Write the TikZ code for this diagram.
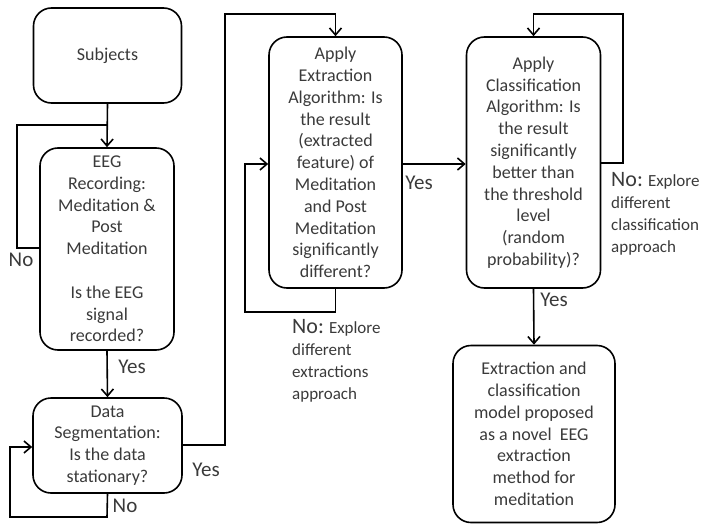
\documentclass[tikz,border=0pt]{standalone}
\usepackage{fontspec}
\setmainfont{Carlito}
\usetikzlibrary{arrows.meta}
\definecolor{txt}{HTML}{3A3A3A}
\tikzset{
  box/.style={draw=black, line width=1.6pt, rounded corners=18pt, align=center, inner sep=0pt,
    text=txt, font=\fontsize{18}{21.8}\selectfont},
  conn/.style={draw=black, line width=1.6pt},
  arr/.style={conn, -{Straight Barb[length=7pt,width=12pt,line width=1.6pt]}},
  lbl/.style={text=txt, inner sep=0pt, font=\fontsize{21}{22}\selectfont},
  note/.style={text=txt, inner sep=0pt, align=left, anchor=north west, font=\fontsize{17}{22}\selectfont},
}
\begin{document}
\begin{tikzpicture}[x=1pt,y=-1pt]
\useasboundingbox (0,0) rectangle (706,524);

\node[box, minimum width=148pt, minimum height=95pt] (subj) at (107.5,55.5) {Subjects};
\node[box, minimum width=134pt, minimum height=202pt] (eeg) at (107,249) {EEG\\Recording:\\Meditation \&\\Post\\Meditation\\[21.8pt]Is the EEG\\signal\\recorded?};
\node[box, minimum width=149pt, minimum height=95pt] (data) at (107.5,445.5) {Data\\Segmentation:\\Is the data\\stationary?};
\node[box, minimum width=133pt, minimum height=251pt] (extr) at (335.5,162.5) {Apply\\Extraction\\Algorithm: Is\\the result\\(extracted\\feature) of\\Meditation\\and Post\\Meditation\\significantly\\different?};
\node[box, minimum width=134pt, minimum height=251pt] (clas) at (533.5,162.5) {Apply\\Classification\\Algorithm: Is\\the result\\significantly\\better than\\the threshold\\level\\(random\\probability)?};
\node[box, minimum width=162pt, minimum height=177pt] (final) at (534,434) {Extraction and\\classification\\model proposed\\as a novel\ \ EEG\\extraction\\method for\\meditation};

% Subjects -> EEG
\draw[arr] (subj.south) -- (eeg.north);
% EEG loop (No)
\coordinate (e1) at (17,248);
\coordinate (e2) at (17,125);
\coordinate (e3) at (107,125);
\draw[conn] (eeg.west |- e1) -- (e1) -- (e2) -- (e3);
\node[lbl] (eno) at (21,260) {No};
% EEG -> Data
\draw[arr] (eeg.south) -- (data.north);
\node[lbl] (eyes) at (132,367) {Yes};
% Data loop (No)
\coordinate (d1) at (107,517);
\coordinate (d2) at (10,517);
\coordinate (d3) at (10,447);
\draw[arr] (data.south) -- (d1) -- (d2) -- (d3) -- (data.west |- d3);
\node[lbl] (dno) at (125,506) {No};
% Data -> Extraction
\coordinate (x1) at (225,445);
\coordinate (x2) at (225,14);
\coordinate (x3) at (335.5,14);
\draw[arr] (data.east |- x1) -- (x1) -- (x2) -- (x3) -- (extr.north);
\node[lbl] (dyes) at (206,470) {Yes};
% Extraction loop (No)
\coordinate (l1) at (335.5,312);
\coordinate (l2) at (245,312);
\coordinate (l3) at (245,164);
\draw[arr] (extr.south) -- (l1) -- (l2) -- (l3) -- (extr.west |- l3);
\node[note] (xno) at (292,319) {{\fontsize{22}{22}\selectfont No:} Explore\\different\\extractions\\approach};
% Extraction -> Classification
\draw[arr] (extr.east |- l3) -- (clas.west |- l3);
\node[lbl] (xyes) at (419,183) {Yes};
% Classification loop (No)
\coordinate (c1) at (623,163);
\coordinate (c2) at (623,14);
\coordinate (c3) at (533.5,14);
\draw[arr] (clas.east |- c1) -- (c1) -- (c2) -- (c3) -- (clas.north);
\node[note] (cno) at (611,172) {{\fontsize{22}{22}\selectfont No:} Explore\\different\\classification\\approach};
% Classification -> Final
\draw[arr] (clas.south) -- (final.north);
\node[lbl] (cyes) at (554,300) {Yes};
\end{tikzpicture}
\end{document}
